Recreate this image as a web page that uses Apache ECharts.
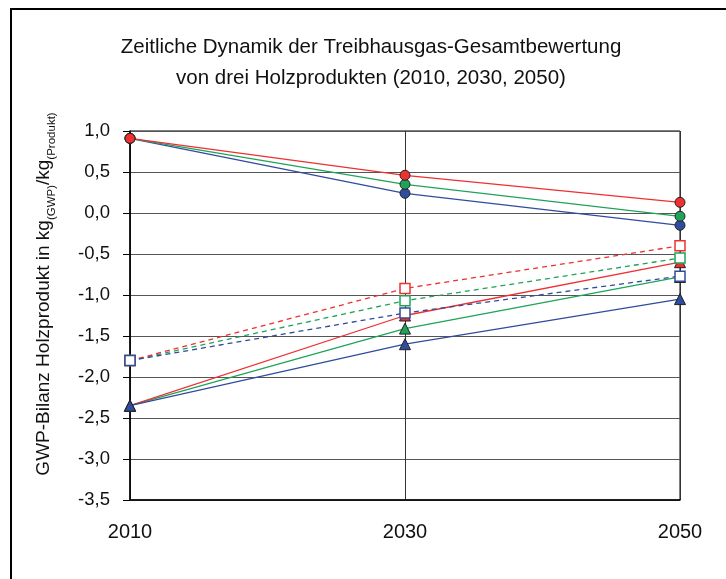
<!DOCTYPE html>
<html>
<head>
<meta charset="utf-8">
<script src="https://cdn.jsdelivr.net/npm/echarts@6/dist/echarts.min.js"></script>
<style>
body{margin:0;background:#fff;}
#myChart{width:726px;height:579px;}
</style>
</head>
<body>
<div id="myChart"></div>
<script>
// Daten
var years = ['2010', '2030', '2050'];
var yTicks = [-3.5, -3.0, -2.5, -2.0, -1.5, -1.0, -0.5, 0.0, 0.5, 1.0];

var circleRed = [0.91, 0.46, 0.13];
var circleGreen = [0.91, 0.35, -0.04];
var circleBlue = [0.91, 0.24, -0.15];

var squareRed = [-1.80, -0.92, -0.40];
var squareGreen = [-1.80, -1.07, -0.55];
var squareBlue = [-1.80, -1.22, -0.77];

var triRed = [-2.35, -1.25, -0.60];
var triGreen = [-2.35, -1.41, -0.78];
var triBlue = [-2.35, -1.60, -1.05];

var red = '#ee3030';
var green = '#1fa35a';
var blue = '#2f4c9e';

function lineSeries(data, color, symbol, dashed, hollow){
  return {
    type: 'line',
    data: data,
    symbol: symbol,
    symbolSize: symbol == 'triangle' ? 11 : 10,
    lineStyle: {color: color, width: 1.3, type: dashed ? [5, 4] : 'solid'},
    itemStyle: {
      color: hollow ? '#fff' : color,
      borderColor: hollow ? color : '#222',
      borderWidth: hollow ? 1.5 : 1
    },
    emphasis: {disabled: true},
    animation: false
  };
}

let myChart = echarts.init(document.getElementById('myChart'));
myChart.setOption({
  textStyle: {fontFamily: 'Liberation Sans, Arial, sans-serif'},
  title: {
    text: 'Zeitliche Dynamik der Treibhausgas-Gesamtbewertung\nvon drei Holzprodukten (2010, 2030, 2050)',
    left: 366,
    top: 27,
    textAlign: 'center',
    textStyle: {fontSize: 20.5, fontWeight: 'normal', color: '#111', lineHeight: 31}
  },
  grid: {
    left: 130, right: 46, top: 131, bottom: 79,
    show: true, borderColor: '#000', borderWidth: 1
  },
  xAxis: {
    type: 'category',
    data: years,
    boundaryGap: false,
    axisLine: {onZero: false, lineStyle: {color: '#000', width: 1.5}},
    axisTick: {show: false},
    axisLabel: {fontSize: 20, color: '#111', margin: 22},
    splitLine: {show: true, lineStyle: {color: '#333', width: 1}}
  },
  yAxis: {
    type: 'value',
    min: yTicks[0],
    max: yTicks[yTicks.length - 1],
    interval: 0.5,
    axisLine: {show: true, lineStyle: {color: '#000', width: 1.5}},
    axisTick: {show: true, length: 7, lineStyle: {color: '#000'}},
    axisLabel: {
      fontSize: 18.5, color: '#111', margin: 20,
      formatter: function(v){ return v.toFixed(1).replace('.', ','); }
    },
    splitLine: {lineStyle: {color: '#555', width: 1}}
  },
  graphic: [
    {
      type: 'rect',
      shape: {x: 11, y: 9, width: 900, height: 800},
      style: {fill: 'none', stroke: '#000', lineWidth: 2},
      silent: true
    },
    {
      type: 'text',
      x: 44, y: 294,
      rotation: Math.PI / 2,
      style: {
        text: '{m|GWP-Bilanz Holzprodukt in kg}{s|(GWP)}{m|/kg}{s|(Produkt)}',
        align: 'center',
        verticalAlign: 'middle',
        rich: {
          m: {fontSize: 19, fill: '#111', lineHeight: 27, verticalAlign: 'middle', fontFamily: 'Liberation Sans'},
          s: {fontSize: 11.5, fill: '#111', lineHeight: 27, verticalAlign: 'bottom', fontFamily: 'Liberation Sans'}
        }
      },
      silent: true
    }
  ],
  series: [
    lineSeries(triGreen, green, 'triangle', false, false),
    lineSeries(triRed, red, 'triangle', false, false),
    lineSeries(triBlue, blue, 'triangle', false, false),
    lineSeries(squareGreen, green, 'rect', true, true),
    lineSeries(squareRed, red, 'rect', true, true),
    lineSeries(squareBlue, blue, 'rect', true, true),
    lineSeries(circleBlue, blue, 'circle', false, false),
    lineSeries(circleGreen, green, 'circle', false, false),
    lineSeries(circleRed, red, 'circle', false, false)
  ]
});
</script>
</body>
</html>
